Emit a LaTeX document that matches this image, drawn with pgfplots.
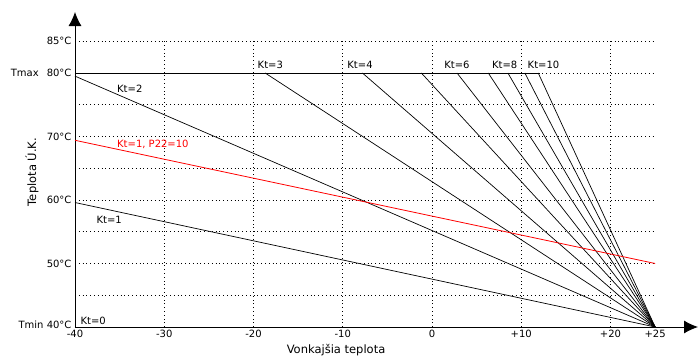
\documentclass[border=0pt]{standalone}
\usepackage{pgfplots}
\pgfplotsset{compat=1.18}
\usetikzlibrary{arrows.meta}
\usepackage{fontspec}
\setmainfont{DejaVu Sans}
\begin{document}
\begin{tikzpicture}
\useasboundingbox (-75pt,-29pt) rectangle (623pt,327pt);
\begin{axis}[
  at={(0,0)}, anchor=south west,
  scale only axis, width=623pt, height=315pt,
  xmin=-40, xmax=29.8, ymin=40, ymax=89.6,
  axis x line=bottom, axis y line=left,
  axis line style={line width=0.9pt, -{Latex[length=14pt,width=13pt]}},
  xtick={-40,-30,-20,-10,0,10,20,25},
  xticklabels={-40,-30,-20,-10,0,+10,+20,+25},
  ytick={40,50,60,70,80,85},
  yticklabels={\raisebox{4pt}{Tmin 40°C}, 50°C, 60°C, 70°C, Tmax\hspace{0.8em}80°C, 85°C},
  major tick length=0pt,
  tick label style={font=\fontsize{10}{12}\selectfont},
  xlabel={Vonkajšia teplota},
  ylabel={Teplota Ú.K.},
  xlabel style={at={(axis description cs:0.419,-0.073)}, anchor=center, font=\fontsize{11.5}{13}\selectfont},
  ylabel style={at={(axis description cs:-0.069,0.492)}, anchor=center, font=\fontsize{11.5}{13}\selectfont},
  clip=false,
]
\pgfplotsinvokeforeach{-30,-20,-10,0,10,20}{
  \draw[black, line width=0.7pt, dash pattern=on 0.8pt off 3pt] (axis cs:#1,40) -- (axis cs:#1,85);
}
\pgfplotsinvokeforeach{45,50,55,60,65,70,75,80,85}{
  \draw[black, line width=0.7pt, dash pattern=on 0.8pt off 3pt] (axis cs:-40,#1) -- (axis cs:25,#1);
}
\addplot[black, line width=0.7pt] coordinates {(-40,80) (11.9,80)};
\addplot[black, line width=0.7pt] coordinates {(-40,59.6) (25,40)};
\addplot[black, line width=0.7pt] coordinates {(-40,79.5) (25,40)};
\addplot[black, line width=0.7pt] coordinates {(-18.7,80) (25,40)};
\addplot[black, line width=0.7pt] coordinates {(-7.8,80) (25,40)};
\addplot[black, line width=0.7pt] coordinates {(-1.2,80) (25,40)};
\addplot[black, line width=0.7pt] coordinates {(2.8,80) (25,40)};
\addplot[black, line width=0.7pt] coordinates {(6.3,80) (25,40)};
\addplot[black, line width=0.7pt] coordinates {(8.5,80) (25,40)};
\addplot[black, line width=0.7pt] coordinates {(10.4,80) (25,40)};
\addplot[black, line width=0.7pt] coordinates {(11.9,80) (25,40)};
\addplot[red, line width=0.8pt] coordinates {(-40,69.4) (25,50)};
\begin{scope}[every node/.style={anchor=west, inner sep=0pt, font=\fontsize{10}{12}\selectfont}]
\node at (axis cs:-39.4,40.9) {Kt=0};
\node at (axis cs:-37.6,56.85) {Kt=1};
\node at (axis cs:-35.3,77.5) {Kt=2};
\node[text=red] at (axis cs:-35.3,68.8) {Kt=1, P22=10};
\node at (axis cs:-19.55,81.3) {Kt=3};
\node at (axis cs:-9.5,81.3) {Kt=4};
\node at (axis cs:1.35,81.3) {Kt=6};
\node at (axis cs:6.7,81.3) {Kt=8};
\node at (axis cs:10.7,81.3) {Kt=10};
\end{scope}
\end{axis}
\end{tikzpicture}
\end{document}
